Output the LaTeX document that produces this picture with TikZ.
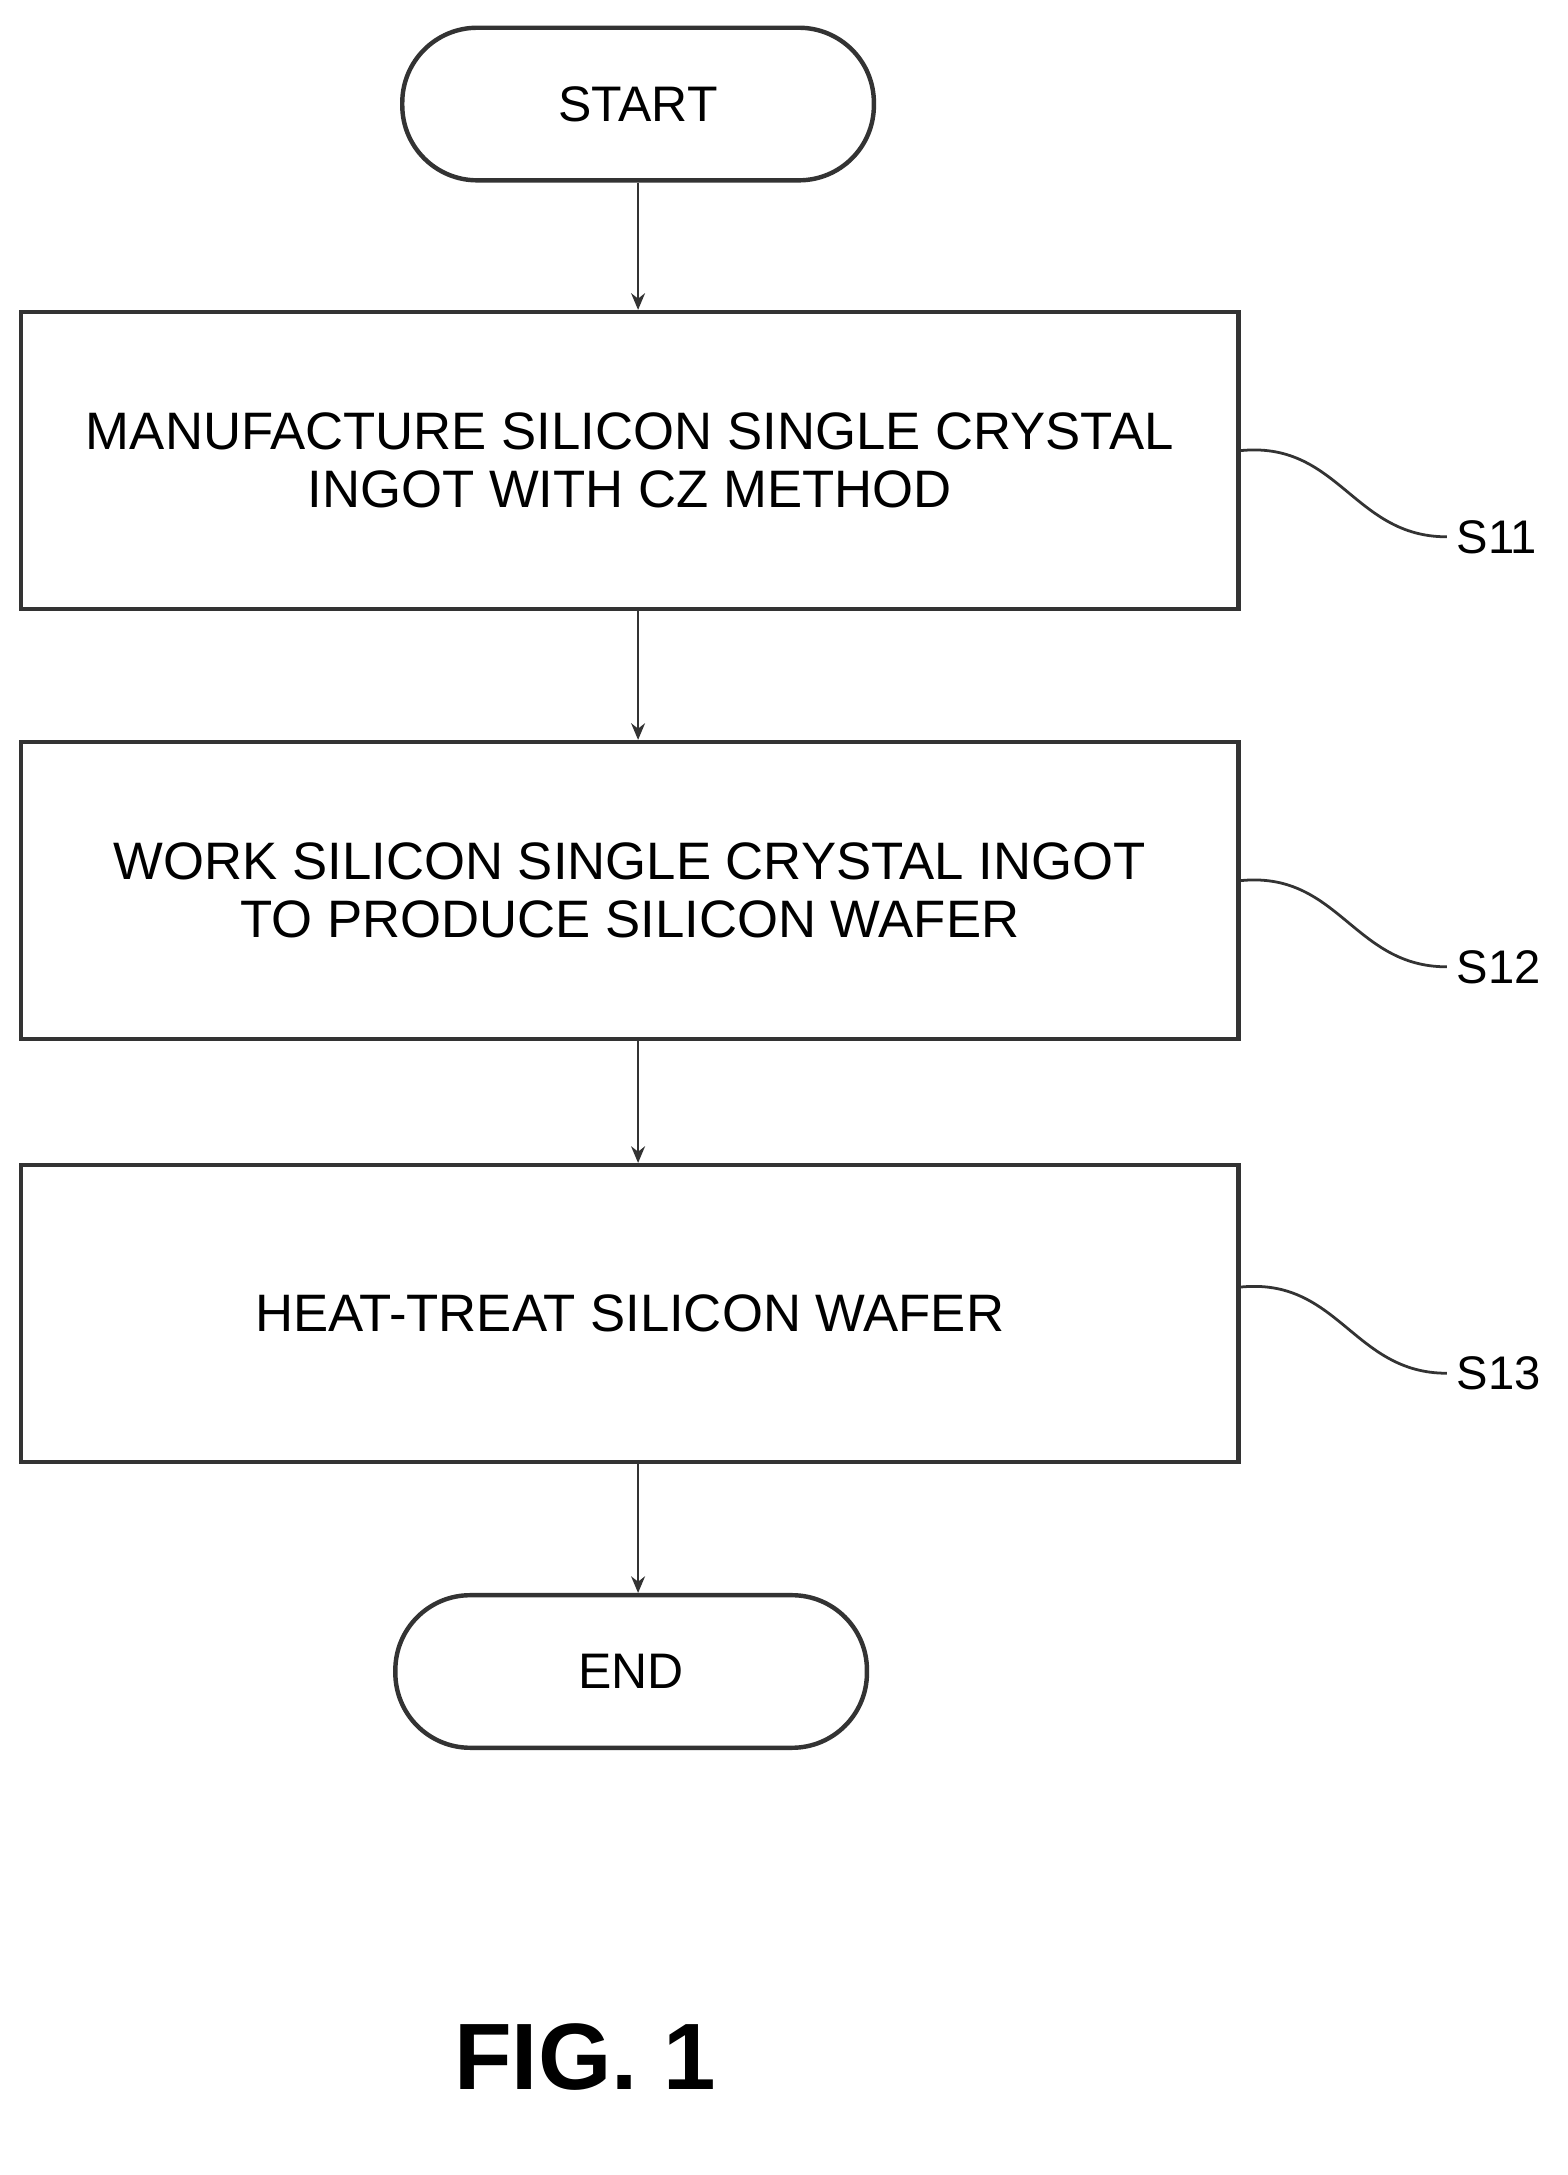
\documentclass[tikz,border=0pt]{standalone}
\usepackage{fontspec}
\setmainfont{Liberation Sans}
\usetikzlibrary{arrows.meta}
\begin{document}
\begin{tikzpicture}[x=0.5pt,y=-0.5pt,
  box/.style={draw=black!80,line width=1.6pt,minimum width=439pt,minimum height=107pt,align=center,font=\fontsize{19}{21}\selectfont,inner sep=0pt},
  term/.style={draw=black!80,line width=1.6pt,rounded corners=27pt,minimum width=170pt,minimum height=55pt,font=\fontsize{18}{20}\selectfont},
  arr/.style={draw=black!80,line width=0.9pt,-{Stealth[length=6pt,width=5pt]}},
  lead/.style={draw=black!80,line width=1pt},
  lab/.style={font=\fontsize{17}{20}\selectfont,anchor=west}]
\useasboundingbox (0,0) rectangle (1130,1568);
\node[term] (start) at (460,75) {START};
\node[box] (b1) at (454,332) {MANUFACTURE SILICON SINGLE CRYSTAL\\INGOT WITH CZ METHOD};
\node[box] (b2) at (454,642) {WORK SILICON SINGLE CRYSTAL INGOT\\TO PRODUCE SILICON WAFER};
\node[box] (b3) at (454,947) {HEAT-TREAT SILICON WAFER};
\node[term] (end) at (455,1205) {END};
\draw[arr] (start.south) -- (start.south|-b1.north);
\draw[arr] (start.south|-b1.south) -- (start.south|-b2.north);
\draw[arr] (start.south|-b2.south) -- (start.south|-b3.north);
\draw[arr] (start.south|-b3.south) -- (start.south|-end.north);
\foreach \y/\s in {325/S11,635/S12,928/S13}{
  \node[lab] (l\s) at (1043,\y+62) {\s};
  \draw[lead] (893,\y) .. controls (965,\y-8) and (975,\y+62) .. (l\s.west);
}
\node[font=\bfseries\fontsize{34}{40}\selectfont] (fig) at (422,1483) {FIG. 1};
\end{tikzpicture}
\end{document}
